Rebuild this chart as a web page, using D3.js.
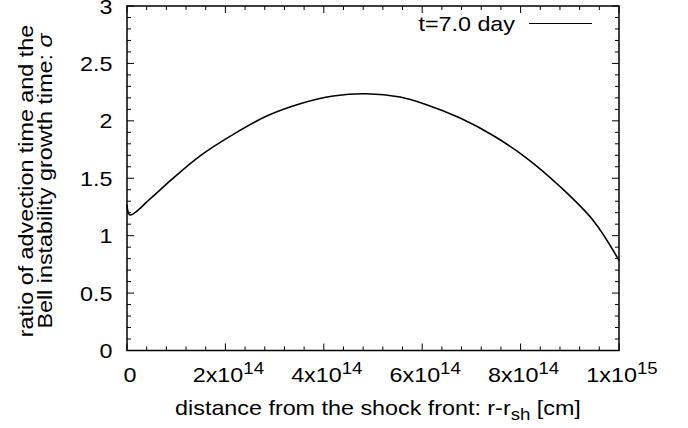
<!DOCTYPE html>
<html>
<head>
<meta charset="utf-8">
<script src="https://cdn.jsdelivr.net/npm/d3@7"></script>
<style>
  html, body { margin: 0; padding: 0; background: #fff; }
  svg text { font-family: "Liberation Sans", Arial, Helvetica, sans-serif; fill: #000; }
</style>
</head>
<body>
<svg id="chart" width="688" height="428"></svg>
<script>
// ---- data ----
const seriesName = "t=7.0 day";
const distance = [0, 0.006e15, 0.047e15, 0.091e15, 0.148e15, 0.216e15, 0.284e15, 0.352e15, 0.419e15,
                  0.487e15, 0.555e15, 0.609e15, 0.677e15, 0.745e15, 0.812e15, 0.880e15, 0.948e15, 1e15];
const sigma = [1.27, 1.18, 1.32, 1.49, 1.693, 1.882, 2.042, 2.149, 2.216,
               2.236, 2.207, 2.140, 2.024, 1.870, 1.676, 1.428, 1.130, 0.785];
const xTickValues = [0, 2e14, 4e14, 6e14, 8e14, 1e15];
const xTickMantissa = ["0", "2x10", "4x10", "6x10", "8x10", "1x10"];
const xTickExponent = ["", "14", "14", "14", "14", "15"];
const yTickValues = [0, 0.5, 1, 1.5, 2, 2.5, 3];
const yTickLabels = ["0", "0.5", "1", "1.5", "2", "2.5", "3"];

// ---- layout ----
const svg = d3.select("#chart");
const L = 127, R = 619, T = 6, B = 350.5;
const FS = 21;
const STRETCH = 1.11;

const x = d3.scaleLinear().domain([0, 1e15]).range([L, R]);
const y = d3.scaleLinear().domain([0, 3]).range([B, T]);

// minor ticks
const xMinor = d3.range(0, 1e15 + 1, 0.4e14).filter(v => !xTickValues.some(t => Math.abs(t - v) < 1e12));
const yMinor = d3.range(0, 3.0001, 0.1).filter(v => !yTickValues.some(t => Math.abs(t - v) < 1e-6));

const g = svg.append("g");

function ticks(vals, len) {
  vals.forEach(v => {
    g.append("line").attr("x1", x(v)).attr("x2", x(v)).attr("y1", B).attr("y2", B - len)
      .attr("stroke", "#000").attr("stroke-width", 1);
    g.append("line").attr("x1", x(v)).attr("x2", x(v)).attr("y1", T).attr("y2", T + len)
      .attr("stroke", "#000").attr("stroke-width", 1);
  });
}
function yticks(vals, len) {
  vals.forEach(v => {
    g.append("line").attr("y1", y(v)).attr("y2", y(v)).attr("x1", L).attr("x2", L + len)
      .attr("stroke", "#000").attr("stroke-width", 1);
    g.append("line").attr("y1", y(v)).attr("y2", y(v)).attr("x1", R).attr("x2", R - len)
      .attr("stroke", "#000").attr("stroke-width", 1);
  });
}
ticks(xTickValues, 7);
ticks(xMinor, 4);
yticks(yTickValues, 7);
yticks(yMinor, 4);

// frame
g.append("rect").attr("x", L).attr("y", T).attr("width", R - L).attr("height", B - T)
  .attr("fill", "none").attr("stroke", "#000").attr("stroke-width", 1.5);

// y tick labels
yTickValues.forEach((v, i) => {
  g.append("text").attr("x", 112.5).attr("y", y(v)).attr("dy", "0.36em")
    .attr("text-anchor", "end").attr("font-size", FS).text(yTickLabels[i]);
});

// x tick labels
xTickValues.forEach((v, i) => {
  const t = g.append("text").attr("x", x(v) + 3).attr("y", 382)
    .attr("text-anchor", "middle").attr("font-size", FS);
  t.append("tspan").text(xTickMantissa[i]);
  if (xTickExponent[i]) {
    t.append("tspan").attr("dy", -8).attr("font-size", FS * 0.8).text(xTickExponent[i]);
  }
});

// x axis title
const xt = g.append("text").attr("x", 378).attr("y", 415).attr("text-anchor", "middle").attr("font-size", FS);
xt.append("tspan").text("distance from the shock front: r-r");
xt.append("tspan").attr("dy", 5).attr("font-size", FS * 0.8).text("sh");
xt.append("tspan").attr("dy", -5).text(" [cm]");

// y axis title (two lines)
const yt = g.append("g").attr("transform", "translate(0,181) rotate(-90)");
yt.append("text").attr("x", 0).attr("y", 33).attr("text-anchor", "middle").attr("font-size", FS)
  .text("ratio of advection time and the");
const yt2 = yt.append("text").attr("x", 0).attr("y", 52).attr("text-anchor", "middle").attr("font-size", FS);
yt2.append("tspan").text("Bell instability growth time: ");
yt2.append("tspan").attr("font-style", "italic").text("σ");

// data line
const line = d3.line().x((d, i) => x(distance[i])).y(d => y(d)).curve(d3.curveCatmullRom.alpha(0.5));
g.append("path").datum(sigma).attr("d", line).attr("fill", "none")
  .attr("stroke", "#000").attr("stroke-width", 1.6).attr("stroke-linejoin", "round");

// legend
g.append("text").attr("x", 515).attr("y", 31).attr("text-anchor", "end").attr("font-size", FS).text(seriesName);
g.append("line").attr("x1", 529).attr("x2", 592).attr("y1", 23.5).attr("y2", 23.5)
  .attr("stroke", "#000").attr("stroke-width", 1);

// the reference face is a bit wider than Liberation Sans: stretch horizontally
svg.selectAll("text").each(function () {
  const w = this.getComputedTextLength();
  this.setAttribute("textLength", (w * STRETCH).toFixed(2));
  this.setAttribute("lengthAdjust", "spacingAndGlyphs");
});
</script>
</body>
</html>
